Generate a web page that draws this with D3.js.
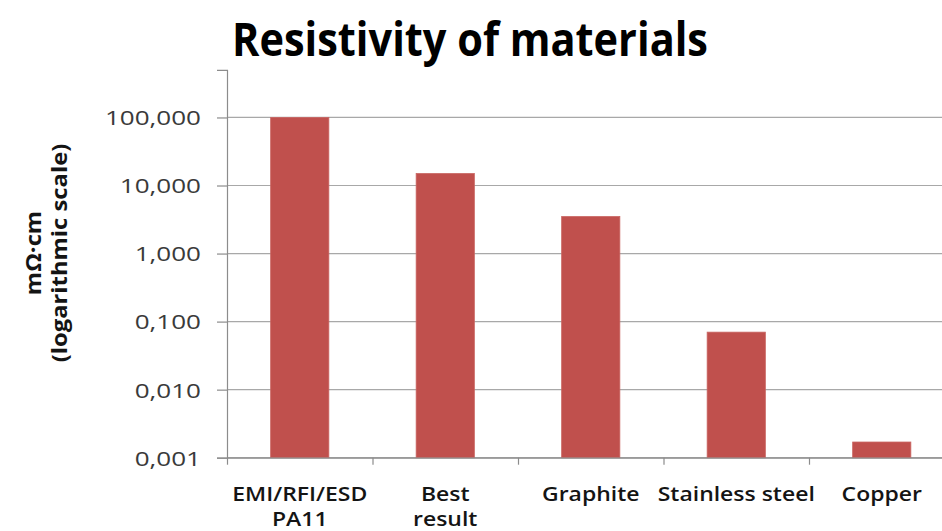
<!DOCTYPE html>
<html>
<head>
<meta charset="utf-8">
<script src="https://cdn.jsdelivr.net/npm/d3@7"></script>
<style>
  html, body { margin: 0; padding: 0; background: #fff; }
  svg { display: block; }
</style>
</head>
<body>
<svg id="chart" width="942" height="531"></svg>
<script>
// ---- data ----
const titleText = "Resistivity of materials";
const categoryLines = [["EMI/RFI/ESD", "PA11"], ["Best", "result"], ["Graphite"], ["Stainless steel"], ["Copper"]];
const values = [100, 15, 3.5, 0.07, 0.0017];
const tickValues = [0.001, 0.01, 0.1, 1, 10, 100];
const tickLabels = ["0,001", "0,010", "0,100", "1,000", "10,000", "100,000"];
const yTitleLines = ["mΩ·cm", "(logarithmic scale)"];

// ---- layout ----
const svg = d3.select("#chart");
const plotLeft = 227, plotRight = 954.5, plotBottom = 457.7, plotTop = 69.9;
const barColor = "#c0504d";
const font = "'Open Sans', 'DejaVu Sans', sans-serif";

function stretch(sel, factor) {
  sel.each(function () {
    const len = this.getComputedTextLength();
    d3.select(this).attr("textLength", len * factor).attr("lengthAdjust", "spacingAndGlyphs");
  });
}

const catNames = categoryLines.map(d => d.join(" "));
const x = d3.scaleBand().domain(catNames).range([plotLeft, plotRight])
  .paddingInner(0.6).paddingOuter(0.3);
const y = d3.scaleLog().domain([0.001, 500]).range([plotBottom, plotTop]);

// gridlines
svg.append("g").selectAll("line").data(tickValues).join("line")
  .attr("x1", plotLeft).attr("x2", 942)
  .attr("y1", d => y(d)).attr("y2", d => y(d))
  .attr("stroke", "#a8a8a8").attr("stroke-width", 1.2);

// bars
svg.append("g").selectAll("rect").data(values).join("rect")
  .attr("x", (d, i) => x(catNames[i]))
  .attr("width", x.bandwidth())
  .attr("y", d => y(d))
  .attr("height", d => y(0.001) - y(d))
  .attr("fill", barColor)
  .attr("stroke", "#c96562").attr("stroke-width", 0.8);

// y axis
const yAxis = svg.append("g").attr("transform", `translate(${plotLeft},0)`)
  .call(d3.axisLeft(y).tickValues(tickValues).tickFormat((d, i) => tickLabels[i])
    .tickSize(10).tickPadding(16));
yAxis.select(".domain").attr("stroke", "#8c8c8c").attr("stroke-width", 1.2);
yAxis.selectAll(".tick line").attr("stroke", "#8c8c8c").attr("stroke-width", 1.2);
yAxis.selectAll(".tick text")
  .attr("font-family", font).attr("font-size", 20.5).attr("fill", "#3a3a3a")
  .attr("dy", "0.36em").call(stretch, 1.27);

// x axis (category boundary ticks)
const xb = d3.scaleLinear().domain([0, catNames.length]).range([plotLeft, plotRight]);
const xAxis = svg.append("g").attr("transform", `translate(0,${plotBottom})`)
  .call(d3.axisBottom(xb).ticks(catNames.length).tickFormat("").tickSize(7).tickSizeOuter(0));
xAxis.select(".domain").attr("stroke", "#8c8c8c").attr("stroke-width", 1.2);
xAxis.selectAll(".tick line").attr("stroke", "#8c8c8c").attr("stroke-width", 1.2);

// x labels
categoryLines.forEach((lines, i) => {
  const cx = x(catNames[i]) + x.bandwidth() / 2;
  lines.forEach((t, j) => {
    svg.append("text")
      .attr("x", cx).attr("y", 500.5 + j * 25.5)
      .attr("text-anchor", "middle")
      .attr("font-family", font).attr("font-weight", 600).attr("font-size", 20.5)
      .attr("fill", "#141414")
      .text(t).call(stretch, 1.12);
  });
});

// y title
yTitleLines.forEach((t, j) => {
  svg.append("text")
    .attr("transform", `translate(${41 + j * 26},253) rotate(-90)`)
    .attr("text-anchor", "middle")
    .attr("font-family", font).attr("font-weight", 700).attr("font-size", 22)
    .attr("fill", "#141414")
    .text(t).call(stretch, 1.08);
});

// title
svg.append("text")
  .attr("x", 470).attr("y", 56)
  .attr("text-anchor", "middle")
  .attr("font-family", font).attr("font-weight", 700).attr("font-size", 46)
  .attr("fill", "#000")
  .text(titleText)
  .attr("textLength", 476).attr("lengthAdjust", "spacingAndGlyphs");
</script>
</body>
</html>
